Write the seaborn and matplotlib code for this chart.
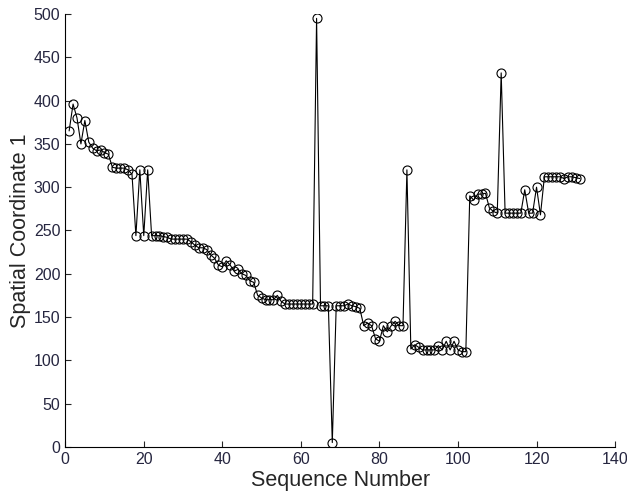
import pandas as pd
import matplotlib
matplotlib.use("Agg")
import matplotlib.pyplot as plt
import seaborn as sns

sns.set_style("ticks")
plt.rcParams['font.family'] = ['Liberation Sans', 'DejaVu Sans']

# values, sequence numbers 1..131
coord = [365, 396, 380, 350, 377, 352, 345, 342, 343, 340,
         338, 323, 322, 322, 322, 320, 315, 244, 320, 244,
         320, 244, 244, 244, 243, 242, 240, 240, 240, 240,
         240, 237, 233, 230, 230, 228, 222, 218, 210, 208,
         215, 210, 203, 205, 200, 198, 192, 190, 175, 172,
         170, 170, 170, 175, 168, 165, 165, 165, 165, 165,
         165, 165, 165, 495, 163, 163, 163, 5, 163, 163,
         163, 165, 163, 162, 160, 140, 143, 140, 125, 122,
         140, 133, 140, 145, 140, 140, 320, 113, 118, 115,
         112, 112, 112, 112, 117, 112, 122, 112, 122, 112,
         110, 110, 290, 285, 292, 292, 293, 276, 272, 270,
         432, 270, 270, 270, 270, 270, 297, 270, 270, 300,
         268, 312, 312, 312, 312, 312, 310, 312, 312, 311,
         310]
seq = list(range(1, len(coord) + 1))

df = pd.DataFrame({"Sequence Number": seq, "Spatial Coordinate 1": coord})

fig, ax = plt.subplots(figsize=(6.27, 5.01), dpi=100)
fig.subplots_adjust(left=0.104, right=0.981, bottom=0.108, top=0.972)

sns.lineplot(data=df, x="Sequence Number", y="Spatial Coordinate 1", ax=ax,
             color="black", linewidth=0.8, marker="o", markersize=6.5,
             markerfacecolor="none", markeredgecolor="black", markeredgewidth=0.8)

ax.set_xlim(0, 140)
ax.set_ylim(0, 500)
ax.set_xticks(range(0, 141, 20))
ax.set_yticks(range(0, 501, 50))
ax.tick_params(direction="in", labelsize=11.5, labelcolor="#262640", length=4)
ax.set_xlabel("Sequence Number", fontsize=15.5, labelpad=2)
ax.set_ylabel("Spatial Coordinate 1", fontsize=15.5, labelpad=2)
sns.despine(ax=ax)
for s in ax.spines.values():
    s.set_linewidth(0.8)
    s.set_color("black")

fig.savefig("out.png", dpi=100)
